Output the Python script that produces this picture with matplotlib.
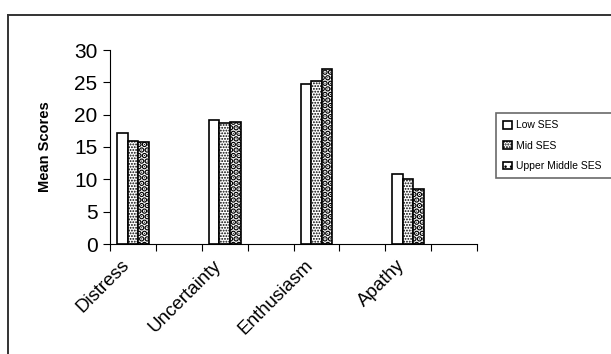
import matplotlib
matplotlib.use("Agg")
import matplotlib.pyplot as plt
from matplotlib.lines import Line2D
import numpy as np

plt.rcParams['font.family'] = ['Liberation Sans', 'DejaVu Sans']

categories = ["Distress", "", "Uncertainty", "", "Enthusiasm", "", "Apathy", ""]
series_names = ["Low SES", "Mid SES", "Upper Middle SES"]
low_ses = [17.2, np.nan, 19.1, np.nan, 24.8, np.nan, 10.8, np.nan]
mid_ses = [15.9, np.nan, 18.7, np.nan, 25.2, np.nan, 10.0, np.nan]
upper_ses = [15.7, np.nan, 18.9, np.nan, 27.0, np.nan, 8.5, np.nan]
yticks = [0, 5, 10, 15, 20, 25, 30]

W, H = 611, 354
fig = plt.figure(figsize=(W / 100, H / 100), dpi=100)
ax = fig.add_axes([110 / W, 1 - 244 / H, (477 - 110) / W, (244 - 50) / H])

x = np.arange(len(categories))
bw = 0.23
hatches = [None, '......', '...']
hatch_lw = [1.0, 0.9, 3.0]
series = [low_ses, mid_ses, upper_ses]
for i, (vals, name, h) in enumerate(zip(series, series_names, hatches)):
    bars = ax.bar(x + (i - 1) * bw, vals, bw, facecolor='white', edgecolor='black',
                  linewidth=1.2, hatch=h, label=name)
    for b in bars:
        try:
            b.set_hatch_linewidth(hatch_lw[i])
        except AttributeError:
            pass

ax.set_xlim(-0.5, len(categories) - 0.5)
ax.set_ylim(0, 30)
ax.set_yticks(yticks)
ax.tick_params(axis='y', labelsize=15, length=5, width=0.8, pad=4)
ax.set_xticks(np.arange(len(categories) + 1) - 0.5)
ax.set_xticklabels([])
ax.tick_params(axis='x', which='major', length=5, width=0.8)
ax.set_xticks(x, minor=True)
ax.set_xticklabels(categories, minor=True, rotation=45, ha='right', va='top', fontsize=13.5)
ax.tick_params(axis='x', which='minor', length=0, pad=9)
for sp in ['top', 'right']:
    ax.spines[sp].set_visible(False)
for sp in ['left', 'bottom']:
    ax.spines[sp].set_linewidth(0.8)
ax.set_ylabel("Mean Scores", fontsize=10.5, fontweight='bold', labelpad=16)

leg = fig.legend(loc='upper left', bbox_to_anchor=(496 / W, 1 - 113 / H, (614 - 496) / W, 0),
                 mode='expand', fontsize=7.5,
                 frameon=True, fancybox=False, edgecolor='#444444', handlelength=0.8,
                 handleheight=0.8, handletextpad=0.4, borderpad=0.7, labelspacing=1.0,
                 borderaxespad=0)
leg.get_frame().set_linewidth(1.2)

# outer frame (top and left edges visible)
fig.add_artist(Line2D([8 / W, 8 / W], [1 - 15 / H, -0.05], transform=fig.transFigure,
                      color='#333333', linewidth=1.4))
fig.add_artist(Line2D([8 / W, 1.05], [1 - 15 / H, 1 - 15 / H], transform=fig.transFigure,
                      color='#333333', linewidth=1.4))

fig.savefig("out.png", dpi=100)
